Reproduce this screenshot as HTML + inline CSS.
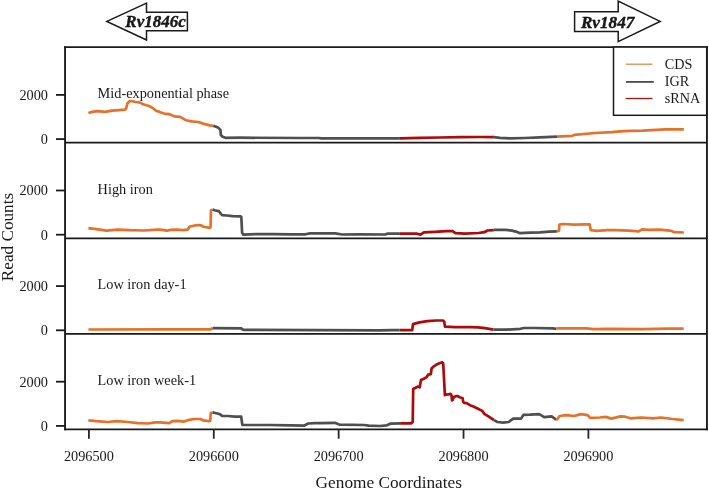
<!DOCTYPE html>
<html><head><meta charset="utf-8"><style>
html,body{margin:0;padding:0;background:#fff;}
svg{display:block;will-change:transform;}
text{font-family:"Liberation Serif", serif;fill:#1a1a1a;}
</style></head><body>
<svg width="709" height="489" viewBox="0 0 709 489">
<rect width="709" height="489" fill="#fff"/>
<!-- gene arrows -->
<polygon points="106.9,21.4 146.5,3.1 146.5,12.3 187.4,12.3 187.4,30.7 146.5,30.7 146.5,40.0" fill="#fff" stroke="#1a1a1a" stroke-width="1.5" stroke-linejoin="miter"/>
<text x="125.3" y="27.3" font-size="17" font-weight="bold" font-style="italic" fill="#000" stroke="#000" stroke-width="0.35">Rv1846c</text>
<polygon points="660.1,21.4 618.2,1.1 618.2,11.7 574.6,11.7 574.6,31.6 618.2,31.6 618.2,41.6" fill="#fff" stroke="#1a1a1a" stroke-width="1.5" stroke-linejoin="miter"/>
<text x="580.9" y="27.8" font-size="17.2" font-weight="bold" font-style="italic" fill="#000" stroke="#000" stroke-width="0.35">Rv1847</text>
<!-- curves -->
<polyline points="88.4,113.1 91.8,111.9 97.4,111.1 105.3,111.9 112.1,110.6 118.9,110.2 125.1,109.7 126.2,108.5 127.3,103.5 129.6,101.2 132.4,101.2 135.8,102.0 140.3,102.7 143.1,104.3 148.2,105.7 151.6,107.2 156.1,110.8 159.5,111.9 164.0,113.6 169.0,114.1 174.7,116.4 180.3,116.9 186.0,120.3 191.6,121.4 198.4,122.0 204.0,123.9 209.6,125.4 213.3,125.8" fill="none" stroke="#e6722a" stroke-width="2.7" stroke-linejoin="round" stroke-linecap="butt"/>
<polyline points="213.3,125.8 218.1,127.6 220.4,129.9 220.9,135.0 222.6,136.7 225.4,137.8 240.0,137.7 300.0,138.0 319.0,138.0 321.0,138.4 399.9,138.4" fill="none" stroke="#4f4f4f" stroke-width="2.7" stroke-linejoin="round" stroke-linecap="butt"/>
<polyline points="399.9,138.4 420.0,137.9 440.0,137.5 460.0,137.2 480.0,137.0 493.9,137.1" fill="none" stroke="#ad0a0a" stroke-width="2.7" stroke-linejoin="round" stroke-linecap="butt"/>
<polyline points="493.9,137.2 500.0,137.8 510.0,138.3 525.0,138.0 540.0,137.4 557.0,136.6" fill="none" stroke="#4f4f4f" stroke-width="2.7" stroke-linejoin="round" stroke-linecap="butt"/>
<polyline points="557.0,136.6 572.6,135.8 574.3,134.9 595.1,133.0 612.0,132.1 620.0,131.4 630.0,130.8 642.6,130.6 665.1,129.4 683.8,129.4" fill="none" stroke="#e6722a" stroke-width="2.7" stroke-linejoin="round" stroke-linecap="butt"/>
<polyline points="88.4,228.2 96.3,229.1 106.4,230.7 117.7,229.6 130.1,230.2 143.7,230.5 157.2,229.6 160.0,229.6 166.8,230.7 170.7,229.9 176.9,229.6 182.6,230.2 187.6,229.6 189.9,226.5 193.9,225.7 198.4,225.0 201.2,225.4 202.9,226.5 204.9,227.0 209.8,227.8 210.6,227.0 211.0,210.2 212.7,209.6" fill="none" stroke="#e6722a" stroke-width="2.7" stroke-linejoin="round" stroke-linecap="butt"/>
<polyline points="212.7,209.6 214.7,210.2 219.2,211.4 220.9,213.9 222.1,215.1 227.0,215.5 232.7,216.1 240.1,216.4 241.3,216.8 242.1,232.7 243.4,234.7 256.9,234.0 273.9,234.1 290.8,234.3 305.4,234.3 310.0,233.4 335.3,233.4 342.1,234.5 360.1,234.3 385.0,234.5 387.8,233.6 399.9,233.6" fill="none" stroke="#4f4f4f" stroke-width="2.7" stroke-linejoin="round" stroke-linecap="butt"/>
<polyline points="399.9,233.6 417.1,233.7 420.5,234.6 423.9,232.3 435.1,231.8 446.4,231.2 452.6,231.2 455.4,233.1 465.0,233.7 478.5,233.0 484.2,232.2 487.6,230.5 493.8,230.1" fill="none" stroke="#ad0a0a" stroke-width="2.7" stroke-linejoin="round" stroke-linecap="butt"/>
<polyline points="493.8,229.9 500.0,229.9 506.0,229.8 512.0,230.6 516.0,231.6 519.5,233.1 530.4,232.6 540.0,232.3 549.0,231.7 556.9,231.4" fill="none" stroke="#4f4f4f" stroke-width="2.7" stroke-linejoin="round" stroke-linecap="butt"/>
<polyline points="556.9,231.4 559.0,230.8 559.4,224.6 562.6,224.0 573.9,224.6 585.1,224.3 589.6,224.3 590.8,230.2 596.4,230.8 607.7,230.2 615.0,230.2 628.5,230.6 638.7,231.4 642.1,229.4 648.9,229.9 660.1,229.7 671.4,230.8 673.7,232.2 683.8,232.5" fill="none" stroke="#e6722a" stroke-width="2.7" stroke-linejoin="round" stroke-linecap="butt"/>
<polyline points="88.4,329.5 165.0,329.3 210.5,329.3 212.5,328.2" fill="none" stroke="#e6722a" stroke-width="2.7" stroke-linejoin="round" stroke-linecap="butt"/>
<polyline points="212.5,328.2 241.5,328.4 243.0,329.8 380.0,330.3 391.3,330.1 399.7,330.1" fill="none" stroke="#4f4f4f" stroke-width="2.7" stroke-linejoin="round" stroke-linecap="butt"/>
<polyline points="399.7,330.1 412.2,330.1 413.0,324.1 419.5,322.4 427.4,321.1 436.4,320.5 443.2,320.5 444.3,321.8 444.9,326.7 450.0,326.9 455.0,327.2 462.0,327.2 470.0,327.1 478.0,327.4 485.0,328.2 493.4,329.6" fill="none" stroke="#ad0a0a" stroke-width="2.7" stroke-linejoin="round" stroke-linecap="butt"/>
<polyline points="493.4,329.6 505.8,329.7 520.4,328.8 523.8,328.0 535.0,328.0 552.6,328.3 556.5,328.8" fill="none" stroke="#4f4f4f" stroke-width="2.7" stroke-linejoin="round" stroke-linecap="butt"/>
<polyline points="556.5,328.8 558.2,328.3 586.4,328.3 593.2,329.1 610.0,328.8 643.1,329.2 668.5,328.7 683.7,328.7" fill="none" stroke="#e6722a" stroke-width="2.7" stroke-linejoin="round" stroke-linecap="butt"/>
<polyline points="88.4,420.3 96.3,421.2 107.6,422.0 116.6,421.2 127.9,422.0 138.0,423.1 148.2,423.5 155.0,422.3 160.0,422.3 169.0,423.1 172.4,421.2 178.0,420.9 183.7,421.7 188.2,420.1 193.9,419.0 200.6,419.0 202.9,420.3 208.5,421.2 210.2,420.9 210.8,413.0 212.5,412.4" fill="none" stroke="#e6722a" stroke-width="2.7" stroke-linejoin="round" stroke-linecap="butt"/>
<polyline points="212.5,412.4 216.4,413.3 219.8,414.1 222.1,415.8 227.7,416.0 235.0,416.7 241.2,416.7 242.3,424.8 246.3,425.0 268.9,425.0 291.4,425.4 303.8,425.7 308.3,423.5 315.0,423.1 321.3,423.1 334.8,422.8 339.3,424.6 364.2,425.0 368.7,425.7 380.0,426.0 386.7,425.4 390.1,423.7 400.1,423.4" fill="none" stroke="#4f4f4f" stroke-width="2.7" stroke-linejoin="round" stroke-linecap="butt"/>
<polyline points="400.1,423.4 411.0,423.4 412.7,422.1 413.2,389.0 415.6,387.7 418.1,386.5 419.7,387.3 421.0,380.0 423.8,378.7 426.7,377.1 428.3,374.6 430.8,374.2 431.6,368.5 433.6,366.5 436.1,364.8 439.4,363.2 442.2,362.4 443.2,363.2 444.9,395.1 446.6,394.4 448.4,394.5 450.5,393.9 451.5,395.2 452.0,400.3 452.8,399.8 453.8,397.0 455.8,396.2 457.9,396.0 459.4,397.3 461.5,397.8 462.5,398.0 463.2,401.9 464.5,402.9 466.6,403.1 470.0,405.2 472.8,406.2 477.5,408.5 482.2,410.9 484.6,414.1 488.4,416.4 494.0,420.1" fill="none" stroke="#ad0a0a" stroke-width="2.7" stroke-linejoin="round" stroke-linecap="butt"/>
<polyline points="494.0,420.1 497.4,422.0 503.1,422.6 508.7,422.0 513.2,418.6 521.1,418.6 523.4,414.9 530.1,414.7 539.2,414.1 544.2,417.2 551.6,416.4 556.1,419.6" fill="none" stroke="#4f4f4f" stroke-width="2.7" stroke-linejoin="round" stroke-linecap="butt"/>
<polyline points="556.1,419.6 557.3,419.2 559.5,416.0 566.3,415.2 574.2,416.0 581.0,414.1 587.7,415.2 590.0,417.8 600.1,417.5 605.8,416.9 611.4,418.6 620.4,416.4 625.0,416.7 630.6,418.3 640.8,417.5 653.2,418.3 661.1,417.5 672.4,419.0 683.7,420.1" fill="none" stroke="#e6722a" stroke-width="2.7" stroke-linejoin="round" stroke-linecap="butt"/>

<!-- frame -->
<path d="M65.05,46.15V430.15000000000003M706.95,46.15V430.15000000000003" stroke="#1a1a1a" stroke-width="1.85" fill="none"/>
<path d="M64.13,47.0H707.87M64.13,429.35H707.87" stroke="#1a1a1a" stroke-width="1.75" fill="none"/>
<line x1="65.05" y1="142.7" x2="706.95" y2="142.7" stroke="#1a1a1a" stroke-width="1.75"/><line x1="65.05" y1="238.3" x2="706.95" y2="238.3" stroke="#1a1a1a" stroke-width="1.75"/><line x1="65.05" y1="333.9" x2="706.95" y2="333.9" stroke="#1a1a1a" stroke-width="1.75"/>
<line x1="56" y1="139.10" x2="65.05" y2="139.10" stroke="#1a1a1a" stroke-width="1.8"/><line x1="56" y1="94.90" x2="65.05" y2="94.90" stroke="#1a1a1a" stroke-width="1.8"/><line x1="56" y1="234.70" x2="65.05" y2="234.70" stroke="#1a1a1a" stroke-width="1.8"/><line x1="56" y1="190.50" x2="65.05" y2="190.50" stroke="#1a1a1a" stroke-width="1.8"/><line x1="56" y1="330.30" x2="65.05" y2="330.30" stroke="#1a1a1a" stroke-width="1.8"/><line x1="56" y1="286.10" x2="65.05" y2="286.10" stroke="#1a1a1a" stroke-width="1.8"/><line x1="56" y1="425.90" x2="65.05" y2="425.90" stroke="#1a1a1a" stroke-width="1.8"/><line x1="56" y1="381.70" x2="65.05" y2="381.70" stroke="#1a1a1a" stroke-width="1.8"/>
<line x1="88.90" y1="429.35" x2="88.90" y2="438.7" stroke="#262626" stroke-width="1.8"/><text x="88.90" y="460.9" text-anchor="middle" font-size="14.3">2096500</text><line x1="213.78" y1="429.35" x2="213.78" y2="438.7" stroke="#262626" stroke-width="1.8"/><text x="213.78" y="460.9" text-anchor="middle" font-size="14.3">2096600</text><line x1="338.65" y1="429.35" x2="338.65" y2="438.7" stroke="#262626" stroke-width="1.8"/><text x="338.65" y="460.9" text-anchor="middle" font-size="14.3">2096700</text><line x1="463.52" y1="429.35" x2="463.52" y2="438.7" stroke="#262626" stroke-width="1.8"/><text x="463.52" y="460.9" text-anchor="middle" font-size="14.3">2096800</text><line x1="588.40" y1="429.35" x2="588.40" y2="438.7" stroke="#262626" stroke-width="1.8"/><text x="588.40" y="460.9" text-anchor="middle" font-size="14.3">2096900</text>
<g font-size="14.3"><text x="48.0" y="144.00" text-anchor="end">0</text><text x="48.0" y="99.80" text-anchor="end">2000</text><text x="48.0" y="239.60" text-anchor="end">0</text><text x="48.0" y="195.40" text-anchor="end">2000</text><text x="48.0" y="335.20" text-anchor="end">0</text><text x="48.0" y="291.00" text-anchor="end">2000</text><text x="48.0" y="430.80" text-anchor="end">0</text><text x="48.0" y="386.60" text-anchor="end">2000</text><text x="97.6" y="97.5">Mid-exponential phase</text><text x="97.6" y="194.1">High iron</text><text x="97.6" y="289.4">Low iron day-1</text><text x="97.6" y="384.8">Low iron week-1</text></g>

<!-- legend -->
<rect x="613.5" y="47.05" width="93.2" height="68.25" fill="#fff" stroke="#1a1a1a" stroke-width="1.5"/>
<line x1="625.6" y1="64.2" x2="652.5" y2="64.2" stroke="#e08a52" stroke-width="1.3"/>
<line x1="626.1" y1="81.9" x2="653.8" y2="81.9" stroke="#4a4a4a" stroke-width="1.8"/>
<line x1="625.6" y1="98.5" x2="652.5" y2="98.5" stroke="#a01414" stroke-width="1.3"/>
<g font-size="14.2"><text x="664.8" y="68.8">CDS</text><text x="664.8" y="86.0">IGR</text><text x="664.8" y="103.0">sRNA</text></g>
<text x="388.8" y="487.6" font-size="17.3" text-anchor="middle">Genome Coordinates</text>
<text transform="translate(12.9,237.0) rotate(-90)" font-size="17.2" text-anchor="middle">Read Counts</text>
</svg>
</body></html>
